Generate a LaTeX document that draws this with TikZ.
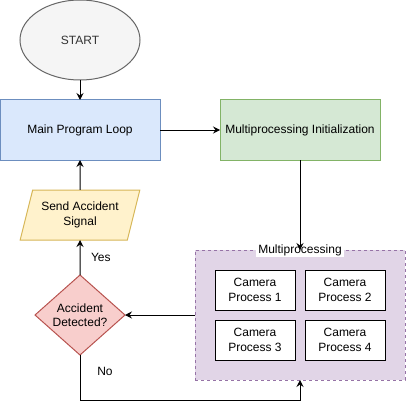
\documentclass[tikz,border=0pt]{standalone}
\usepackage{fontspec}
\setmainfont{Liberation Sans}
\usepackage{tikz}
\usetikzlibrary{arrows.meta,shapes.geometric}
\usepackage{xcolor}

\definecolor{startfill}{HTML}{F5F5F5}
\definecolor{startline}{HTML}{666666}
\definecolor{starttext}{HTML}{333333}
\definecolor{loopfill}{HTML}{DAE8FC}
\definecolor{loopline}{HTML}{6C8EBF}
\definecolor{initfill}{HTML}{D5E8D4}
\definecolor{initline}{HTML}{82B366}
\definecolor{signalfill}{HTML}{FFF2CC}
\definecolor{signalline}{HTML}{D6B656}
\definecolor{decfill}{HTML}{F8CECC}
\definecolor{decline}{HTML}{B85450}
\definecolor{mpfill}{HTML}{E1D5E7}
\definecolor{mpline}{HTML}{9673A6}

\begin{document}
\begin{tikzpicture}[x=1pt,y=-1pt,
		every node/.style={font=\fontsize{12}{14.4}\selectfont,line width=1pt,inner sep=0pt,outer sep=0pt,align=center},
		box/.style={draw,rectangle,minimum width=160pt,minimum height=60pt},
		campbox/.style={draw=black,fill=white,rectangle,minimum width=80pt,minimum height=40pt},
		arr/.style={line width=1pt,-{Stealth[length=7pt,width=7pt,inset=2.5pt]}}]
		
		\useasboundingbox (0,0) rectangle (407,409);
		
		\node[ellipse,draw=startline,fill=startfill,text=starttext,minimum width=120pt,minimum height=80pt] (start) at (80,40) {START};
		
		\node[box,draw=loopline,fill=loopfill] (mainloop) at (80,130) {Main Program Loop};
		\node[box,draw=initline,fill=initfill] (mpinit) at (300,130) {Multiprocessing Initialization};
		
		\node[trapezium,trapezium stretches=true,trapezium left angle=68.2,trapezium right angle=111.8,
		draw=signalline,fill=signalfill,minimum width=120pt,minimum height=50pt] (signal) at (80,215) {Send Accident\\Signal};
		
		\node[diamond,draw=decline,fill=decfill,minimum width=90pt,minimum height=80pt] (detect) at (80,315) {Accident\\Detected?};
		
		% multiprocessing container
		\node[draw=mpline,fill=mpfill,dash pattern=on 3pt off 3pt,minimum width=210pt,minimum height=130pt] (mp) at (300,315) {};
		\node[fill=white,inner xsep=2pt,inner ysep=1pt] (mplabel) at (300,250) {Multiprocessing};
		
		\foreach \i/\x/\y in {1/255/290,2/345/290,3/255/340,4/345/340}
		\node[campbox] (cam\i) at (\x,\y) {Camera\\Process \i};
		
		\draw[arr] (start) -- (mainloop);
		\draw[arr] (mainloop) -- (mpinit);
		\draw[arr] (mpinit) -- (mp.north);
		\draw[arr] (mp.west) -- (detect.east);
		\draw[arr] (detect.north) -- (signal.south) node[pos=0.5,right=11pt] (yes) {Yes};
		\draw[arr] (signal.north) -- (mainloop.south);
		
		\coordinate (loopback) at (80,400);
		\draw[arr] (detect.south) -- (loopback) -| (mp.south);
		\node (no) at (105,371) {No};
		
	\end{tikzpicture}
\end{document}
